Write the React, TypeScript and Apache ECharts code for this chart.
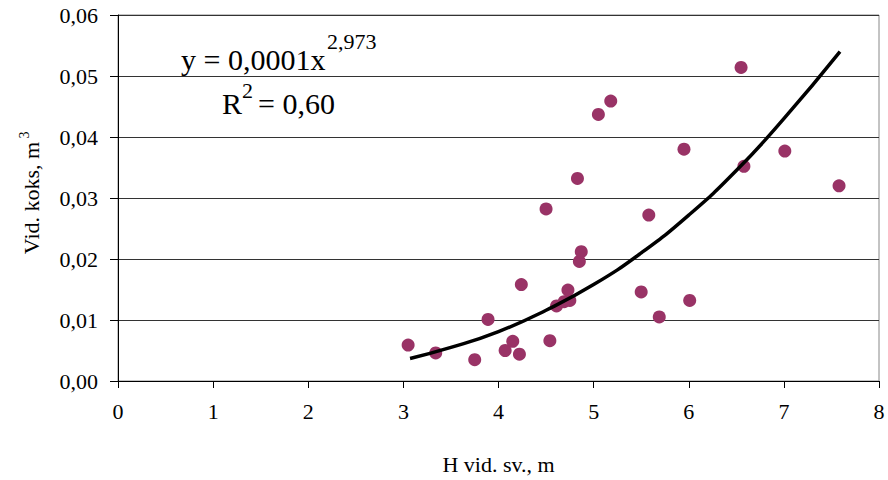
import React, { useEffect, useRef } from "react";
import * as echarts from "echarts";

// Scatter observations: height (m) and volume (m³)
const hValues = [3.05, 3.34, 3.75, 3.89, 4.07, 4.15, 4.22, 4.24, 4.5, 4.54, 4.61, 4.69, 4.75, 4.73, 4.83, 4.85, 4.87, 5.05, 5.18, 5.5, 5.58, 5.69, 5.95, 6.01, 6.55, 6.58, 7.01, 7.58];
const vValues = [0.0059, 0.0046, 0.0035, 0.0101, 0.005, 0.0065, 0.0044, 0.0158, 0.0282, 0.0066, 0.0123, 0.013, 0.0132, 0.0149, 0.0332, 0.0196, 0.0212, 0.0437, 0.0459, 0.0146, 0.0272, 0.0105, 0.038, 0.0132, 0.0514, 0.0352, 0.0377, 0.032];

// Power trend line points
const trendH = [3.07, 3.5, 4, 4.5, 5, 5.5, 6, 6.5, 7, 7.59];
const trendV = [0.0037, 0.0055, 0.0081, 0.0116, 0.0158, 0.021, 0.0272, 0.0345, 0.043, 0.054];

const xTicks = [0, 1, 2, 3, 4, 5, 6, 7, 8];
const yTicks = [0, 0.01, 0.02, 0.03, 0.04, 0.05, 0.06];

const equationMain = "y = 0,0001x";
const equationExp = "2,973";
const r2Main = "R";
const r2Exp = "2";
const r2Value = "= 0,60";
const xTitle = "H vid. sv., m";
const yTitle = "Vid. koks, m";
const yTitleExp = "3";

const FONT = "'Liberation Serif', 'Times New Roman', serif";

export default function App() {
  const ref = useRef<HTMLDivElement>(null);
  useEffect(() => {
    if (!ref.current) return;
    const chart = echarts.init(ref.current, undefined, { renderer: "svg" });
    const scatterData = hValues.map((h, i) => [h, vValues[i]]);
    const trendData = trendH.map((h, i) => [h, trendV[i]]);
    const txt = (text: string, x: number, y: number, size: number, extra: any = {}) => ({
      type: "text",
      x,
      y,
      ...extra,
      style: {
        text,
        fontFamily: FONT,
        fontSize: size,
        fill: "#000",
        align: extra.align || "left",
        verticalAlign: "middle",
      },
    });
    chart.setOption({
      animation: false,
      backgroundColor: "#ffffff",
      textStyle: { fontFamily: FONT },
      grid: {
        left: 118,
        right: 9,
        top: 15,
        bottom: 97,
        show: true,
        borderColor: "#888888",
        borderWidth: 1,
        backgroundColor: "transparent",
      },
      xAxis: {
        type: "value",
        min: xTicks[0],
        max: xTicks[xTicks.length - 1],
        interval: 1,
        name: xTitle,
        nameLocation: "middle",
        nameGap: 72,
        nameTextStyle: { fontFamily: FONT, fontSize: 22, color: "#000" },
        axisLine: { show: true, onZero: false, lineStyle: { color: "#000", width: 1 } },
        axisTick: { show: true, inside: false, length: 7, lineStyle: { color: "#000" } },
        axisLabel: { fontFamily: FONT, fontSize: 22, color: "#000", margin: 19 },
        splitLine: { show: false },
      },
      yAxis: {
        type: "value",
        min: yTicks[0],
        max: yTicks[yTicks.length - 1],
        interval: 0.01,
        axisLine: { show: true, lineStyle: { color: "#000", width: 1 } },
        axisTick: { show: true, inside: false, length: 8, lineStyle: { color: "#000" } },
        axisLabel: {
          fontFamily: FONT,
          fontSize: 22,
          color: "#000",
          margin: 20,
          formatter: (v: number) => v.toFixed(2).replace(".", ","),
        },
        splitLine: { show: true, lineStyle: { color: "#333333", width: 1 } },
      },
      graphic: [
        txt(equationMain, 181, 59, 30),
        txt(equationExp, 327, 41, 22),
        txt(r2Main, 222, 103, 30),
        txt(r2Exp, 242, 90, 22),
        txt(r2Value, 258, 103, 30),
        txt(yTitle, 31, 198, 22, { rotation: Math.PI / 2, align: "center" }),
        txt(yTitleExp, 24, 135, 14, { rotation: Math.PI / 2, align: "center" }),
      ],
      series: [
        {
          type: "scatter",
          data: scatterData,
          symbol: "circle",
          symbolSize: 13,
          itemStyle: { color: "#993366", opacity: 1 },
          z: 2,
        },
        {
          type: "line",
          data: trendData,
          smooth: true,
          showSymbol: false,
          symbol: "none",
          lineStyle: { color: "#000", width: 3.5 },
          z: 3,
        },
      ],
    });
    return () => chart.dispose();
  }, []);
  return (
    <div
      ref={ref}
      style={{ position: "fixed", left: 0, top: 0, width: 888, height: 480 }}
    />
  );
}
